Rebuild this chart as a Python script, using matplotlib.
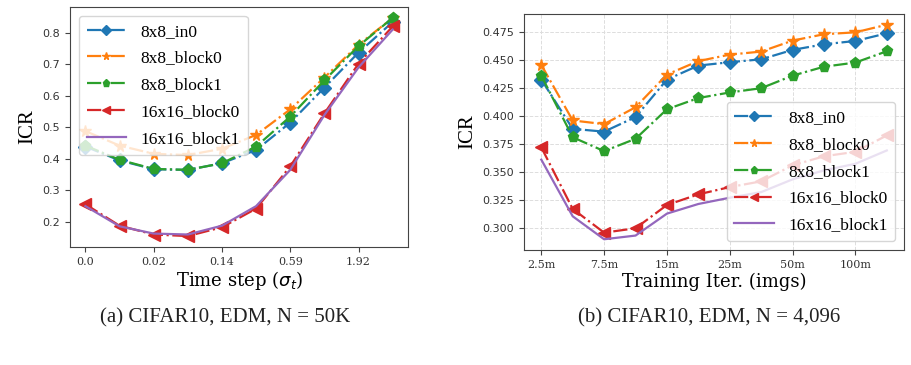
"""ICR curves for CIFAR10 / EDM: over time step and over training iterations."""

import matplotlib
matplotlib.use("Agg")
import matplotlib.pyplot as plt
from matplotlib.ticker import FormatStrFormatter

# ---- data ----
series_names = ["8x8_in0", "8x8_block0", "8x8_block1", "16x16_block0", "16x16_block1"]

# (a) time step
time_ticklabels = ["0.0", "0.02", "0.14", "0.59", "1.92"]
time_in0 = [0.439, 0.395, 0.367, 0.365, 0.386, 0.428, 0.515, 0.626, 0.737, 0.834]
time_block0 = [0.488, 0.442, 0.416, 0.412, 0.432, 0.476, 0.557, 0.658, 0.762, 0.847]
time_block1 = [0.442, 0.397, 0.368, 0.365, 0.386, 0.439, 0.534, 0.649, 0.758, 0.847]
time_16_block0 = [0.256, 0.188, 0.160, 0.155, 0.183, 0.242, 0.376, 0.544, 0.702, 0.820]
time_16_block1 = [0.250, 0.186, 0.163, 0.160, 0.188, 0.250, 0.365, 0.539, 0.690, 0.810]
time_yticks = [0.2, 0.3, 0.4, 0.5, 0.6, 0.7, 0.8]

# (b) training iterations
iter_ticklabels = ["2.5m", "7.5m", "15m", "25m", "50m", "100m"]
iter_in0 = [0.4325, 0.3885, 0.386, 0.399, 0.4325, 0.445, 0.448, 0.4506, 0.459, 0.464, 0.467, 0.4738]
iter_block0 = [0.4456, 0.396, 0.3927, 0.4078, 0.437, 0.449, 0.4548, 0.4575, 0.4673, 0.473, 0.4747, 0.4815]
iter_block1 = [0.436, 0.381, 0.3686, 0.3796, 0.406, 0.416, 0.421, 0.4248, 0.436, 0.444, 0.4477, 0.4578]
iter_16_block0 = [0.372, 0.317, 0.2958, 0.2997, 0.3205, 0.330, 0.3365, 0.3416, 0.3559, 0.364, 0.368, 0.3826]
iter_16_block1 = [0.361, 0.3104, 0.2899, 0.2932, 0.3128, 0.3214, 0.327, 0.332, 0.3434, 0.3514, 0.3573, 0.3692]
iter_yticks = [0.300, 0.325, 0.350, 0.375, 0.400, 0.425, 0.450, 0.475]

COLORS = ["#1f77b4", "#ff7f0e", "#2ca02c", "#d62728", "#9467bd"]
MARKERS = ["D", "*", "p", "<", None]
STYLES = ["-.", "-.", "-.", "-.", "-"]
MSIZES = [7.5, 8.5, 8, 9, 0]

SERIF = "Liberation Serif"
LEGEND_FONT = {"family": SERIF, "size": 12.5}


def draw_panel(ax, series, ticklabels, yticks, xlabel, legend_loc, grid=False):
    x = list(range(len(series[0])))
    for vals, name, c, m, ls, ms in zip(series, series_names, COLORS, MARKERS, STYLES, MSIZES):
        ax.plot(x, vals, linestyle=ls, color=c, marker=m, markersize=ms,
                linewidth=1.6, label=name)

    ax.set_xticks(x[::2])
    ax.set_xticklabels(ticklabels, family="DejaVu Serif", fontsize=8, color="#333333")
    ax.set_yticks(yticks)
    ax.set_yticklabels([f"{v:g}" for v in yticks], family="DejaVu Sans", fontsize=8,
                       color="#333333")
    ax.tick_params(colors="#444444", labelcolor="#333333")
    for s in ax.spines.values():
        s.set_color("#444444")

    ax.set_xlabel(xlabel, family="DejaVu Serif", fontsize=13, labelpad=2)
    ax.set_ylabel("ICR", family=SERIF, fontsize=15, labelpad=4)
    if grid:
        ax.grid(True, linestyle="--", color="#dddddd", linewidth=0.7)
        ax.set_axisbelow(True)
    ax.legend(loc=legend_loc, prop=LEGEND_FONT, markerscale=0.65, handlelength=2.3,
              labelspacing=0.62, borderpad=0.45)


fig = plt.figure(figsize=(9.12, 3.65), dpi=100)

ax1 = fig.add_axes([0.0768, 0.3233, 0.3706, 0.6575])
draw_panel(ax1, [time_in0, time_block0, time_block1, time_16_block0, time_16_block1],
           time_ticklabels, time_yticks, r"Time step ($\sigma_t$)", "upper left")

ax2 = fig.add_axes([0.5746, 0.3151, 0.4167, 0.6466])
draw_panel(ax2, [iter_in0, iter_block0, iter_block1, iter_16_block0, iter_16_block1],
           iter_ticklabels, iter_yticks, "Training Iter. (imgs)", "lower right", grid=True)
ax2.yaxis.set_major_formatter(FormatStrFormatter("%.3f"))

fig.text(0.247, 0.128, "(a) CIFAR10, EDM, N = 50K", family=SERIF, fontsize=15,
         ha="center", va="center", color="#222222")
fig.text(0.778, 0.128, "(b) CIFAR10, EDM, N = 4,096", family=SERIF, fontsize=15,
         ha="center", va="center", color="#222222")

fig.savefig("out.png", dpi=100)
